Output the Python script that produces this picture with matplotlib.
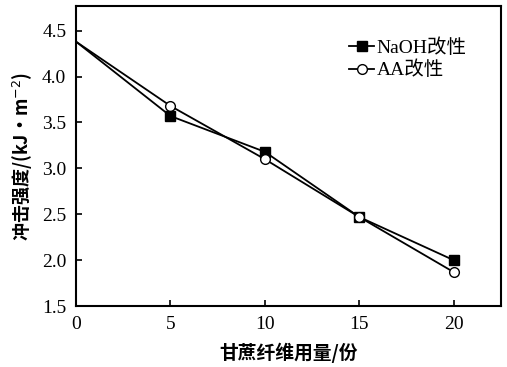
import numpy as np
import matplotlib
matplotlib.use('Agg')
import matplotlib.pyplot as plt

plt.rcParams['font.family'] = ['Liberation Serif', 'Noto Sans CJK SC', 'DejaVu Sans']

# datos
fibra = [0, 5, 10, 15, 20]
naoh = [4.38, 3.57, 3.18, 2.47, 2.00]
aa = [4.38, 3.68, 3.10, 2.47, 1.87]

fig = plt.figure(figsize=(5.07, 3.67), dpi=100)
ax = fig.add_axes([0.150, 0.166, 0.838, 0.818])

ax.plot(fibra, naoh, '-', color='black', lw=1.3, marker='s', ms=7,
        mfc='black', mec='black', markevery=[1, 2, 3, 4], label='NaOH改性')
ax.plot(fibra, aa, '-', color='black', lw=1.3, marker='o', ms=7,
        mfc='white', mec='black', markevery=[1, 2, 3, 4], label='AA改性')

ax.set_xlim(0, 22.5)
ax.set_ylim(1.5, 4.77)
ax.set_xticks([0, 5, 10, 15, 20])
ax.set_yticks([1.5, 2.0, 2.5, 3.0, 3.5, 4.0, 4.5])
ax.set_yticklabels(['1.5', '2.0', '2.5', '3.0', '3.5', '4.0', '4.5'])
ax.tick_params(direction='in', length=4, width=1.2, labelsize=14, pad=7)
for s in ax.spines.values():
    s.set_linewidth(1.5)

cjk = ['Noto Sans CJK SC', 'DejaVu Sans']
ax.set_xlabel('甘蔗纤维用量/份', family=cjk, fontsize=13.5, fontweight='bold', labelpad=7)
ax.set_ylabel('冲击强度/(kJ·m$^{-2}$)', family=cjk, fontsize=13, fontweight='bold', labelpad=5)

leg = ax.legend(loc='upper right', bbox_to_anchor=(0.96, 0.95), frameon=False,
                handlelength=1.3, handletextpad=0.1, labelspacing=0.2,
                prop={'family': ['Liberation Serif', 'Noto Sans CJK SC'], 'size': 14})

fig.savefig('out.png', dpi=100)
